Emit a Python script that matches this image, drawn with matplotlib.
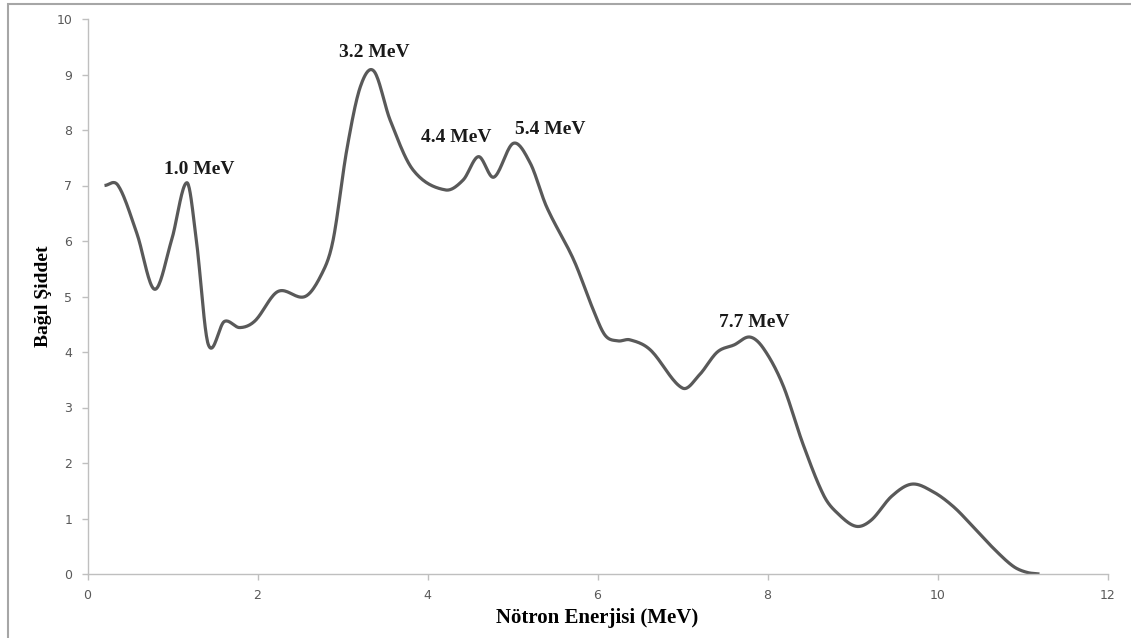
import numpy as np
import matplotlib
matplotlib.use("Agg")
import matplotlib.pyplot as plt
from matplotlib.patches import Rectangle

# points (energy in MeV, relative intensity)
energy = [0.2, 0.36, 0.58, 0.79, 0.99, 1.17, 1.28, 1.42, 1.61, 1.79, 1.97,
          2.24, 2.56, 2.76, 2.89, 3.05, 3.21, 3.37, 3.56, 3.83, 4.21, 4.42,
          4.6, 4.78, 5.01, 5.21, 5.4, 5.72, 5.95, 6.09, 6.24, 6.38, 6.62,
          7.0, 7.2, 7.41, 7.61, 7.79, 7.95, 8.18, 8.42, 8.66, 8.82, 9.04,
          9.22, 9.46, 9.7, 9.95, 10.19, 10.42, 10.66, 10.89, 11.05, 11.2]
intensity = [7.0, 7.0, 6.14, 5.13, 6.02, 7.05, 6.02, 4.14, 4.55, 4.44, 4.56,
             5.09, 5.0, 5.42, 6.02, 7.64, 8.78, 9.06, 8.18, 7.28, 6.92, 7.1,
             7.52, 7.15, 7.76, 7.4, 6.62, 5.66, 4.76, 4.3, 4.2, 4.22, 4.04,
             3.35, 3.59, 4.0, 4.13, 4.27, 4.07, 3.41, 2.33, 1.42, 1.1, 0.86,
             0.97, 1.4, 1.62, 1.48, 1.21, 0.85, 0.46, 0.14, 0.03, 0.0]

peak_labels = ["1.0 MeV", "3.2 MeV", "4.4 MeV", "5.4 MeV", "7.7 MeV"]
label_x = [1.31, 3.38, 4.34, 5.44, 7.84]
label_y = [7.28, 9.4, 7.87, 8.0, 4.53]


def smooth_line(x, y, per_seg=20):
    # excel-like smoothed line: cubic hermite with catmull-rom slopes
    x = np.asarray(x, float)
    y = np.asarray(y, float)
    m = np.zeros_like(y)
    m[1:-1] = (y[2:] - y[:-2]) / (x[2:] - x[:-2])
    m[0] = (y[1] - y[0]) / (x[1] - x[0])
    m[-1] = (y[-1] - y[-2]) / (x[-1] - x[-2])
    xs, ys = [], []
    for i in range(len(x) - 1):
        h = x[i + 1] - x[i]
        t = np.linspace(0, 1, per_seg, endpoint=False)
        h00 = 2 * t**3 - 3 * t**2 + 1
        h10 = t**3 - 2 * t**2 + t
        h01 = -2 * t**3 + 3 * t**2
        h11 = t**3 - t**2
        xs.append(x[i] + t * h)
        ys.append(h00 * y[i] + h10 * h * m[i] + h01 * y[i + 1] + h11 * h * m[i + 1])
    xs.append([x[-1]])
    ys.append([y[-1]])
    return np.concatenate(xs), np.concatenate(ys)


fig = plt.figure(figsize=(11.31, 6.38), dpi=100)
ax = fig.add_axes([87.5 / 1131, 64 / 638, 1020 / 1131, 555 / 638])

sx, sy = smooth_line(energy, intensity)
ax.plot(sx, sy, color="#595959", linewidth=2.3, solid_capstyle="butt")

ax.set_xlim(0, 12)
ax.set_ylim(0, 10)
ax.set_xticks(range(0, 13, 2))
ax.set_yticks(range(0, 11))

for side in ["top", "right"]:
    ax.spines[side].set_visible(False)
for side in ["left", "bottom"]:
    ax.spines[side].set_color("#BFBFBF")
    ax.spines[side].set_linewidth(1.0)
ax.tick_params(axis="both", colors="#BFBFBF", labelcolor="#595959",
               labelsize=9, length=4, width=1.0, direction="out")
ax.tick_params(axis="y", pad=7)
ax.tick_params(axis="x", pad=7)

serif = ["Liberation Serif", "DejaVu Serif"]
ax.set_xlabel("Nötron Enerjisi (MeV)", family=serif, fontweight="bold",
              fontsize=15, labelpad=4)
ax.set_ylabel("Bağıl Şiddet", family=serif, fontweight="bold",
              fontsize=14, labelpad=3)

for txt, lx, ly in zip(peak_labels, label_x, label_y):
    ax.text(lx, ly, txt, family=serif, fontweight="bold", fontsize=14,
            ha="center", va="center", color="#1a1a1a")

# outer chart border
fig.patches.append(Rectangle((8 / 1131, -0.05), 1.2, (638 - 4) / 638 + 0.05,
                             transform=fig.transFigure, fill=False,
                             edgecolor="#A6A6A6", linewidth=1.5))

fig.savefig("out.png", dpi=100)
